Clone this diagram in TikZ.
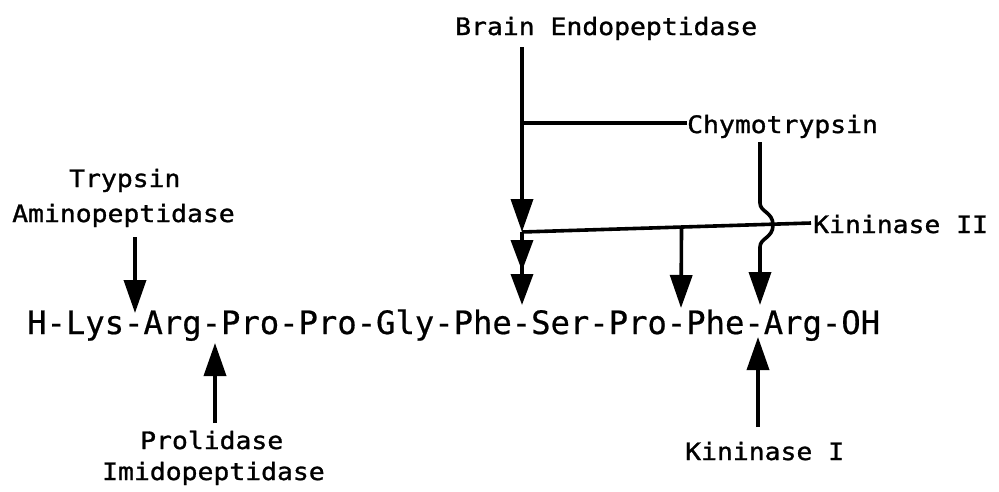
\documentclass[tikz,border=0pt]{standalone}
\usepackage{fontspec}
\usetikzlibrary{arrows.meta,calc}
\newfontfamily\seqfont{DejaVu Sans Mono}[FakeBold=0.6]
\newfontfamily\labfont{DejaVu Sans Mono}[FakeStretch=1.1,FakeBold=1.2]
\begin{document}
\begin{tikzpicture}[x=1pt,y=-1pt,
  lab/.style={font=\labfont\fontsize{24}{26}\selectfont, inner sep=0pt, anchor=base west},
  seqtext/.style={font=\seqfont\fontsize{32.2}{36}\selectfont, inner sep=0pt, anchor=base west},
  wire/.style={line width=3.6pt},
  cut/.style={wire, -{Triangle[length=33pt,width=22pt]}},
  dcut/.style={wire, -{Triangle[length=31pt,width=22pt,sep=3pt]Triangle[length=31pt,width=22pt,sep=3pt]}}]
\fill[white] (0,0) rectangle (999,491);
\useasboundingbox (0,0) rectangle (999,491);

% peptide chain
\node[seqtext] (seq) at (27,334) {H-Lys-Arg-Pro-Pro-Gly-Phe-Ser-Pro-Phe-Arg-OH};

% enzyme labels
\node[lab] (be)  at (455,35)  {Brain Endopeptidase};
\node[lab] (chy) at (687,133) {Chymotrypsin};
\node[lab] (k2)  at (813,233) {Kininase II};
\node[lab] (tr)  at (69,187)  {Trypsin};
\node[lab] (am)  at (12,222)  {Aminopeptidase};
\node[lab] (pr)  at (140,449) {Prolidase};
\node[lab] (im)  at (102,480) {Imidopeptidase};
\node[lab] (k1)  at (685,460) {Kininase I};

% cleavage points on the chain
\coordinate (lysarg) at (135,313);
\coordinate (argpro) at (215,343);
\coordinate (pheser) at (522,308);
\coordinate (prophe) at (681,308);
\coordinate (phearg) at (760,305);
\coordinate (pheargb) at (758,337);

% line ends and junctions
\coordinate (trtop) at (135,237);
\coordinate (prbot) at (215,423);
\coordinate (k1top) at (758,427);
\coordinate (bet)   at (522,47);
\coordinate (chyj)  at (522,123);
\coordinate (k2j)   at (522,232);
\coordinate (k2e)   at (811,223);
\coordinate (k2m)   at ($(k2j)!0.552!(k2e)$);
\coordinate (chyt)  at (760,142);

% brain endopeptidase / chymotrypsin / kininase II
\draw[wire] (chyj) -- (chyj -| chy.west);
\draw[cut] (bet) -- (k2j);
\draw[wire] (k2j) -- (k2e);
\draw[dcut] (k2j) -- (pheser);
\draw[cut] (k2m) -- (prophe);
\draw[cut] (chyt) -- (760,203) .. controls (760,212) and (773,212) .. (773,225)
  .. controls (773,238) and (760,238) .. (760,247) -- (phearg);

% trypsin, prolidase, kininase I
\draw[cut] (trtop) -- (lysarg);
\draw[cut] (prbot) -- (argpro);
\draw[cut] (k1top) -- (pheargb);
\end{tikzpicture}
\end{document}
